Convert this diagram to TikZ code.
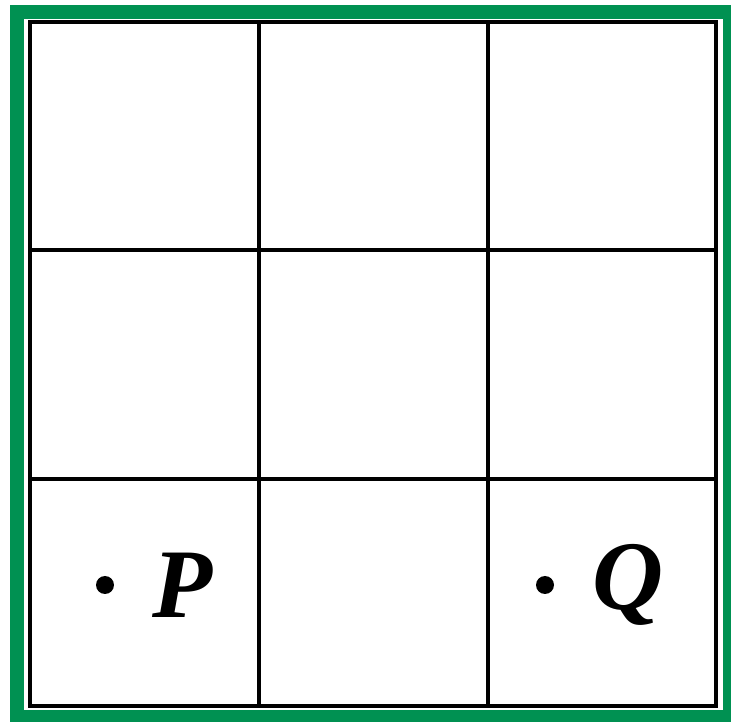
\documentclass[tikz,border=0pt]{standalone}
\usepackage{fontspec}
\setmainfont{Liberation Serif}
\usetikzlibrary{positioning}
\definecolor{frame}{RGB}{0,145,82}

\begin{document}
\begin{tikzpicture}[x=0.02cm, y=-0.02cm,
  gridline/.style={line width=2.3pt, black},
  pt/.style={circle, fill=black, inner sep=0pt, minimum size=0.36cm},
  lbl/.style={font=\fontsize{56}{60}\selectfont\bfseries\itshape, inner sep=0pt}]
\useasboundingbox (0,0) rectangle (731,722);
% green frame
\begin{scope}
\clip (0,0) rectangle (731,722);
\draw[frame, line width=0.28cm] (17,12) rectangle (730,717);
\end{scope}
% 3x3 grid
\draw[gridline] (30,22) rectangle (716,706);
\foreach \x in {259,488} \draw[gridline] (\x,22) -- (\x,706);
\foreach \y in {250,479} \draw[gridline] (30,\y) -- (716,\y);
% points
\node[pt] (p) at (105,585) {};
\node[lbl, right=0.75cm of p] (plab) {P};
\node[pt] (q) at (545,585) {};
\node[lbl, right=0.75cm of q] (qlab) {Q};
\end{tikzpicture}
\end{document}
